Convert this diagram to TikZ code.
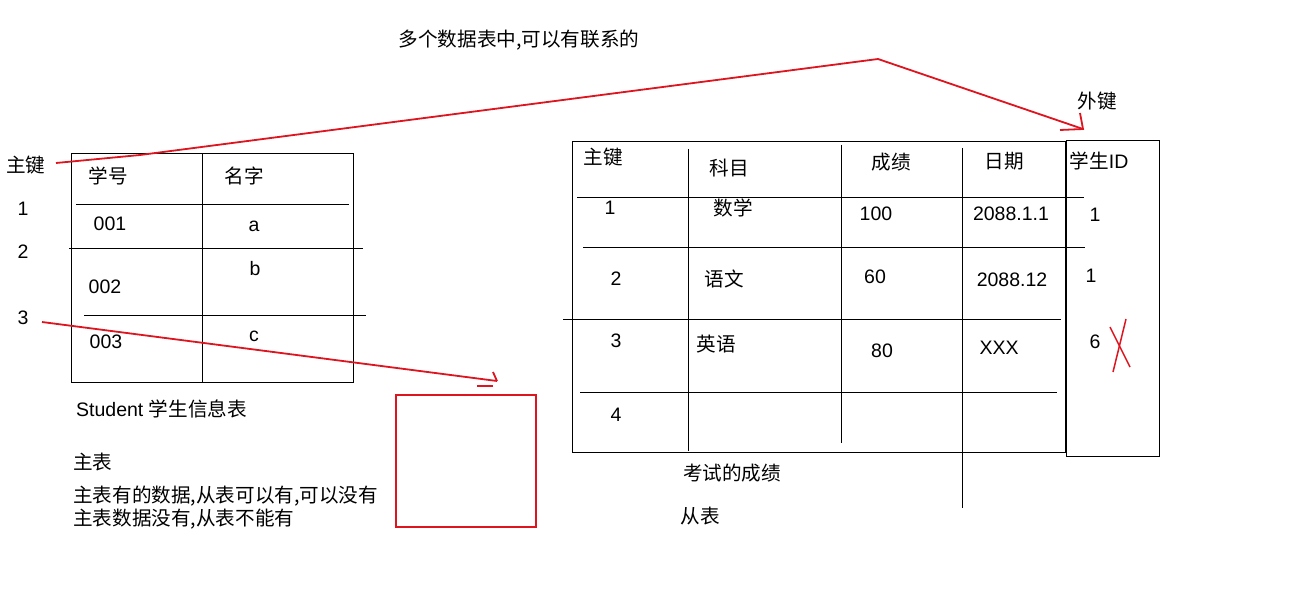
\documentclass[tikz,border=0pt]{standalone}
\usepackage{fontspec}
\setmainfont{Liberation Sans}
\newfontfamily\cjk{Noto Sans CJK SC}
\definecolor{pen}{RGB}{222,20,30}
\newcommand{\cjs}{\cjk\fontsize{19.6}{22}\selectfont}
\begin{document}
\begin{tikzpicture}[x=1pt,y=-1pt,
  txt/.style={inner sep=0pt,font=\fontsize{19.5}{22}\selectfont},
  cj/.style={inner sep=0pt,font=\cjs},
  grid/.style={draw=black,line width=1pt},
  redline/.style={draw=pen,line width=1.8pt}]
\useasboundingbox[fill=white] (0,0) rectangle (1290,599);

% ---------- left table ----------
\draw[grid] (71,153) rectangle (353,382);
\draw[grid] (202,153) -- (202,382);
\draw[grid] (76,204) -- (349,204);
\draw[grid] (69,248) -- (363,248);
\draw[grid] (84,315) -- (366,315);

\node[cj] (pk1) at (26,165) {主键};
\node[txt] (n1) at (23,209) {1};
\node[txt] (n2) at (23,252) {2};
\node[txt] (n3) at (23,318) {3};
\node[cj] (xh) at (108,176) {学号};
\node[cj] (mz) at (244,176) {名字};
\node[txt] (s001) at (110,224) {001};
\node[txt] (sa) at (254,226) {a};
\node[txt] (s002) at (105,287) {002};
\node[txt] (sb) at (255,269) {b};
\node[txt] (s003) at (106,342) {003};
\node[txt] (sc) at (254,336) {c};

\node[txt,anchor=west] (stu) at (76,409) {Student {\cjs 学生信息表}};
\node[cj,anchor=west] (zb) at (73,462) {主表};
\node[cj,anchor=west] (l1) at (73,496) {主表有的数据,从表可以有,可以没有};
\node[cj,anchor=west] (l2) at (73,519) {主表数据没有,从表不能有};

% red box
\draw[redline] (396,395) rectangle (536,527);

% ---------- right table ----------
\draw[grid] (572,142) rectangle (1065,452);
\draw[grid] (688,149) -- (688,451);
\draw[grid] (841,145) -- (841,443);
\draw[grid] (962,148) -- (962,508);
\draw[grid] (577,197) -- (1084,197);
\draw[grid] (583,247) -- (1085,247);
\draw[grid] (563,319) -- (1061,319);
\draw[grid] (580,392) -- (1057,392);
\draw[grid] (1066,141) rectangle (1159,456);

\node[cj] (pk2) at (603,157) {主键};
\node[cj] (km) at (729,168) {科目};
\node[cj] (cjh) at (891,162) {成绩};
\node[cj] (rq) at (1004,161) {日期};
\node[txt] (sid) at (1099,161) {{\cjs 学生}ID};
\node[txt] (r1) at (610,208) {1};
\node[cj] (sx) at (733,208) {数学};
\node[txt] (g100) at (876,214) {100};
\node[txt] (d1) at (1011,214) {2088.1.1};
\node[txt] (f1) at (1095,215) {1};
\node[txt] (r2) at (616,279) {2};
\node[cj] (yw) at (724,279) {语文};
\node[txt] (g60) at (875,277) {60};
\node[txt] (d2) at (1012,280) {2088.12};
\node[txt] (f2) at (1091,276) {1};
\node[txt] (r3) at (616,341) {3};
\node[cj] (yy) at (716,344) {英语};
\node[txt] (g80) at (882,351) {80};
\node[txt] (d3) at (999,348) {XXX};
\node[txt] (f3) at (1095,342) {6};
\node[txt] (r4) at (616,415) {4};

\node[cj] (ks) at (732,473) {考试的成绩};
\node[cj] (cb) at (700,516) {从表};
\node[cj] (title) at (519,40) {多个数据表中,可以有联系的};
\node[cj] (fk) at (1097,101) {外键};

% red X
\draw[redline,line width=1.5pt] (1126,319) -- (1113,372);
\draw[redline,line width=1.5pt] (1110,327) -- (1130,367);

% ---------- red connectors ----------
\coordinate (a0) at (56,163);
\coordinate (a1) at (140,155);
\coordinate (apex) at (878,59);
\coordinate (atip) at (1083,129);
\draw[redline,line join=round] (a0) -- (a1) -- (apex) -- (atip);
\draw[redline] (1080,113) -- (atip) -- (1060,130);

\coordinate (b0) at (42,322);
\coordinate (btip) at (497,381);
\draw[redline] (b0) -- (btip);
\draw[redline] (493,372) -- (btip);
\draw[redline] (477,386) -- (493,386);
\end{tikzpicture}
\end{document}
